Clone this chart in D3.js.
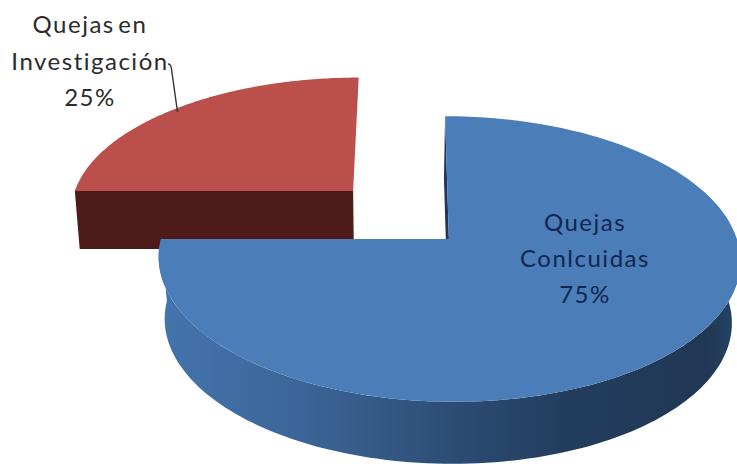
<!DOCTYPE html>
<html>
<head>
<meta charset="utf-8">
<script src="https://cdn.jsdelivr.net/npm/d3@7"></script>
<style>
  html, body { margin: 0; padding: 0; background: #fff; }
  svg { display: block; }
  text { font-family: Lato, "Open Sans", sans-serif; font-size: 24px; letter-spacing: 1.5px; word-spacing: -4px; text-anchor: middle; }
</style>
</head>
<body>
<div id="chart"></div>
<script>
// data
var categories = ["Quejas Conlcuidas", "Quejas en Investigación"];
var values = [75, 25];
var labelLines = [["Quejas", "Conlcuidas"], ["Quejas en", "Investigación"]];

var svgWidth = 737;
var svgHeight = 464;

var svg = d3.select("#chart")
  .append("svg")
  .attr("width", svgWidth)
  .attr("height", svgHeight);

// perspective settings for the tilted disc
var originY = 239;
var shearY = 259;
var radiusX = 288;
var radiusY = 140;
var persp = 0.14;
var wallX = 400;

// how each slice sits on the disc (exploded offset, thickness, colour)
var sliceStyle = [
  { vanish: 530, du: -0.274, dv: 0, scale: 1, shear: 0.11, depth: 62, shrink: 0.975, top: "#4b7db9" },
  { vanish: 400, du: -0.171, dv: -0.36, scale: 1.015, shear: 0, depth: 58, shrink: 0.985, top: "#ba4f4b" }
];

var pie = d3.pie().sort(null).value(d => d);
var slices = pie(values);

// world coords on disc -> screen
function project(u, v, s) {
  var w = 1 / (1 - persp * v);
  var y = originY + radiusY * v * w;
  return [s.vanish + radiusX * u * w + s.shear * (y - shearY), y];
}

function centerPoint(s) {
  return project(s.du, s.dv, s);
}

function edgePoint(angle, s) {
  return project(s.du + s.scale * Math.sin(angle), s.dv - s.scale * Math.cos(angle), s);
}

function arcPoints(a0, a1, s) {
  return d3.range(0, 121).map(i => edgePoint(a0 + (a1 - a0) * i / 120, s));
}

// point moved down by the slice thickness
function lower(p, s) {
  return [wallX + (p[0] - wallX) * s.shrink, p[1] + s.depth];
}

var line = d3.line();

var defs = svg.append("defs");
var sideGrad = defs.append("linearGradient")
  .attr("id", "blueSide")
  .attr("gradientUnits", "userSpaceOnUse")
  .attr("x1", 160).attr("x2", 737).attr("y1", 0).attr("y2", 0);
[[0, "#4474ad"], [0.25, "#3b6597"], [0.5, "#2d4d75"], [0.7, "#233d5e"], [0.95, "#203853"], [1, "#264467"]]
  .forEach(d => sideGrad.append("stop").attr("offset", d[0]).attr("stop-color", d[1]));

// red slice first, it sits behind the blue one
var redS = sliceStyle[1];
var red = slices[1];
var redCenter = centerPoint(redS);
var redLeft = edgePoint(red.startAngle, redS);

svg.append("path")
  .attr("d", line([redLeft, redCenter, lower(redCenter, redS), lower(redLeft, redS)]) + "Z")
  .attr("fill", "#4d1c19");

svg.append("path")
  .attr("d", line([redCenter].concat(arcPoints(red.startAngle, red.endAngle, redS))) + "Z")
  .attr("fill", redS.top);

// blue slice: outer wall, inner sliver, then top
var blueS = sliceStyle[0];
var blue = slices[0];
var blueCenter = centerPoint(blueS);
var blueTop = edgePoint(blue.startAngle, blueS);
var wall = arcPoints(Math.PI / 2, blue.endAngle, blueS);

svg.append("path")
  .attr("d", line(wall.concat(wall.map(p => lower(p, blueS)).reverse())) + "Z")
  .attr("fill", "url(#blueSide)");

svg.append("path")
  .attr("d", line([blueTop, blueCenter, lower(blueCenter, blueS), lower(blueTop, blueS)]) + "Z")
  .attr("fill", "#1d3858");

svg.append("path")
  .attr("d", line([blueCenter].concat(arcPoints(blue.startAngle, blue.endAngle, blueS))) + "Z")
  .attr("fill", blueS.top);

// leader line for the outside label
svg.append("path")
  .attr("d", "M168,64 Q171,64 171.5,69 L177.5,112")
  .attr("fill", "none")
  .attr("stroke", "#333")
  .attr("stroke-width", 1.4);

// labels
var percent = d3.format(".0%");
var total = d3.sum(values);
var labelPos = [
  { x: 585, y: 231, fill: "#12264f", step: 36 },
  { x: 90, y: 33, fill: "#2b2b2b", step: 36.5 }
];

categories.forEach(function(name, i) {
  var lines = labelLines[i].concat([percent(values[i] / total)]);
  var g = svg.append("g").attr("class", "label").attr("aria-label", name);
  g.selectAll("text")
    .data(lines)
    .enter()
    .append("text")
    .attr("x", labelPos[i].x)
    .attr("y", (d, j) => labelPos[i].y + j * labelPos[i].step)
    .attr("fill", labelPos[i].fill)
    .text(d => d);
});
</script>
</body>
</html>
